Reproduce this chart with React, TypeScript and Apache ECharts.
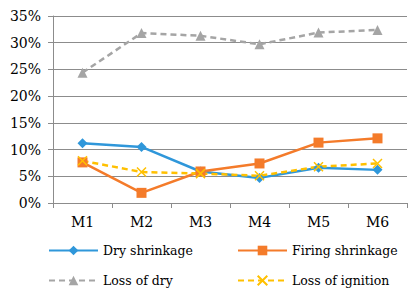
import React, { useEffect, useRef } from "react";
import * as echarts from "echarts";

const categories = ["M1", "M2", "M3", "M4", "M5", "M6"];
const dryShrinkage = [11.2, 10.5, 5.9, 4.7, 6.6, 6.2];
const firingShrinkage = [7.6, 1.9, 5.9, 7.4, 11.3, 12.1];
const lossOfDry = [24.4, 31.8, 31.3, 29.7, 31.9, 32.4];
const lossOfIgnition = [7.9, 5.8, 5.5, 5.1, 6.8, 7.4];

const FONT = "DejaVu Serif";

export default function App() {
  const ref = useRef<HTMLDivElement>(null);
  useEffect(() => {
    if (!ref.current) return;
    const chart = echarts.init(ref.current, undefined, { renderer: "svg" });
    const legendText = { fontFamily: FONT, fontSize: 12.5, color: "#000" };
    const mkLegend = (name: string, left: number, top: number) => ({
      data: [name],
      left,
      top,
      padding: 0,
      itemWidth: 49,
      itemHeight: 12,
      itemGap: 3,
      textStyle: legendText,
      selectedMode: false,
    });
    chart.setOption({
      animation: false,
      backgroundColor: "#fff",
      textStyle: { fontFamily: FONT },
      grid: { left: 53, right: 9, top: 16, bottom: 91 },
      legend: [
        mkLegend("Dry shrinkage", 48, 244),
        mkLegend("Firing shrinkage", 237, 244),
        mkLegend("Loss of dry", 48, 274),
        mkLegend("Loss of ignition", 237, 274),
      ],
      xAxis: {
        type: "category",
        data: categories,
        boundaryGap: true,
        axisLine: { lineStyle: { color: "#8c8c8c", width: 1 } },
        axisTick: { show: true, length: 5, lineStyle: { color: "#8c8c8c" } },
        axisLabel: { fontFamily: FONT, fontSize: 14, color: "#000", margin: 12 },
      },
      yAxis: {
        type: "value",
        min: 0,
        max: 35,
        interval: 5,
        axisLine: { show: true, lineStyle: { color: "#8c8c8c", width: 1 } },
        axisTick: { show: true, length: 5, lineStyle: { color: "#8c8c8c" } },
        axisLabel: { fontFamily: FONT, fontSize: 14, color: "#000", margin: 12, formatter: "{value}%" },
        splitLine: { show: true, lineStyle: { color: "#8c8c8c", width: 1 } },
      },
      series: [
        {
          name: "Dry shrinkage",
          type: "line",
          data: dryShrinkage,
          color: "#2F97DA",
          symbol: "diamond",
          symbolSize: 10,
          lineStyle: { width: 2.5 },
        },
        {
          name: "Firing shrinkage",
          type: "line",
          data: firingShrinkage,
          color: "#F47B2A",
          symbol: "rect",
          symbolSize: 10,
          lineStyle: { width: 2.5 },
        },
        {
          name: "Loss of dry",
          type: "line",
          data: lossOfDry,
          color: "#A5A5A5",
          symbol: "triangle",
          symbolSize: 10,
          lineStyle: { width: 2.5, type: [6, 4] },
        },
        {
          name: "Loss of ignition",
          type: "line",
          data: lossOfIgnition,
          color: "#FFC000",
          symbol: "path://M0,0L10,10M10,0L0,10",
          symbolSize: 9,
          itemStyle: { borderColor: "#FFC000", borderWidth: 1.5 },
          lineStyle: { width: 2.5, type: [6, 4] },
        },
      ],
    });
    return () => chart.dispose();
  }, []);
  return (
    <div
      ref={ref}
      style={{ position: "fixed", left: 0, top: 0, width: 416, height: 294 }}
    />
  );
}
